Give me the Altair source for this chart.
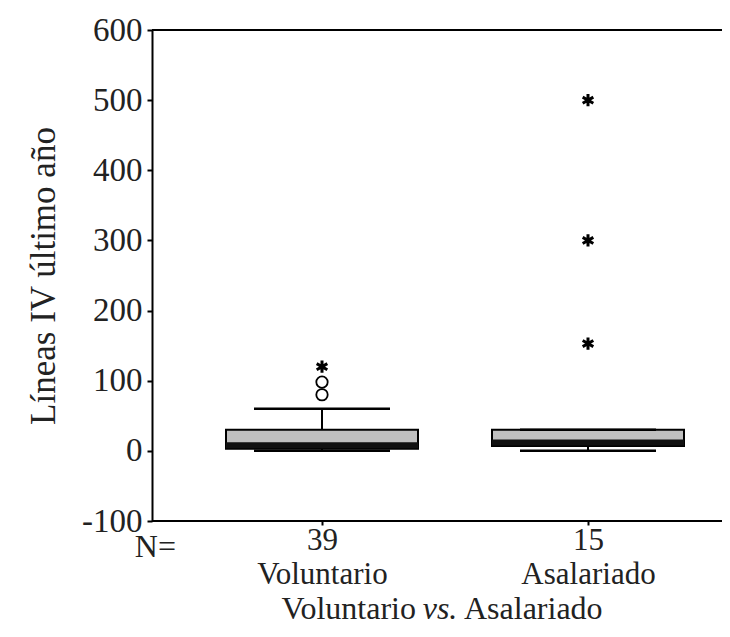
import altair as alt
import pandas as pd

categories = ["Voluntario", "Asalariado"]
n_counts = [39, 15]
q1 = [3, 7]
median = [8, 12]
q3 = [30, 30]
whisk_lo = [0, 0]
whisk_hi = [60, 30]
circle_group = ["Voluntario", "Voluntario"]
circle_vals = [80, 98]
star_group = ["Voluntario", "Asalariado", "Asalariado", "Asalariado"]
star_vals = [120, 500, 300, 153]
y_ticks = [-100, 0, 100, 200, 300, 400, 500, 600]
frame_vals = [-100, 600]

FONT = "Times New Roman, Liberation Serif, serif"
W, H = 570, 491

stats = pd.DataFrame({"group": categories, "n": n_counts, "q1": q1, "median": median,
                      "q3": q3, "lo": whisk_lo, "hi": whisk_hi})
circles = pd.DataFrame({"group": circle_group, "value": circle_vals})
stars = pd.DataFrame({"group": star_group, "value": star_vals})

label_expr = " : ".join(
    [f"datum.value == '{c}' ? ['{n}', '{c}']" for c, n in zip(categories, n_counts)]
) + " : datum.value"

xs = alt.X("group:N", sort=categories,
           scale=alt.Scale(type="point", range=[170, 436], padding=0),
           axis=alt.Axis(title=None, labelExpr=label_expr, labelAngle=0, domain=False,
                         labelFont=FONT, labelFontSize=31, labelColor="#222",
                         labelLineHeight=34, labelBaseline="top", labelPadding=0,
                         tickSize=4, tickColor="black", tickWidth=2))
yscale = alt.Scale(domain=[-100, 600], nice=False, zero=False)
yax = alt.Axis(title="Líneas IV último año", values=y_ticks, grid=False,
               labelExpr="'' + datum.value",
               labelFont=FONT, labelFontSize=33, labelColor="#222", labelPadding=5,
               tickSize=5, tickColor="black", tickWidth=2,
               domainColor="black", domainWidth=2,
               titleFont=FONT, titleFontSize=35, titleFontWeight="normal",
               titleColor="#222", titlePadding=20)

base = alt.Chart(stats)

box = base.mark_bar(size=192, fill="#c0c0c0", stroke="black", strokeWidth=2).encode(
    x=xs, y=alt.Y("q1:Q", scale=yscale, axis=yax), y2="q3:Q")
med = base.mark_tick(size=192, thickness=6, color="#111", opacity=1).encode(x=xs, y="median:Q")
upper = base.mark_rule(color="black", strokeWidth=2).encode(x=xs, y="q3:Q", y2="hi:Q")
lower = base.mark_rule(color="black", strokeWidth=2).encode(x=xs, y="lo:Q", y2="q1:Q")
cap_hi = base.mark_tick(size=136, thickness=2.5, color="black", opacity=1).encode(x=xs, y="hi:Q")
cap_lo = base.mark_tick(size=136, thickness=2.5, color="black", opacity=1).encode(x=xs, y="lo:Q")

circ = alt.Chart(circles).mark_point(shape="circle", filled=False, size=130, opacity=1,
                                      stroke="black", strokeWidth=1.8).encode(
    x=xs, y="value:Q")
star_path = "M0,-1L0,1M-0.87,-0.5L0.87,0.5M-0.87,0.5L0.87,-0.5"
star = alt.Chart(stars).mark_point(shape=star_path, filled=False, size=150, opacity=1,
                                    stroke="black", strokeWidth=3).encode(
    x=xs, y="value:Q")

frame = alt.Chart(pd.DataFrame({"v": frame_vals})).mark_rule(
    color="black", strokeWidth=2).encode(y=alt.Y("v:Q", scale=yscale))

n_txt = alt.Chart(pd.DataFrame({"t": ["N="]})).mark_text(
    font=FONT, fontSize=32, color="#222", align="right", baseline="alphabetic").encode(
    text="t:N", x=alt.value(24), y=alt.value(527))
t1 = alt.Chart(pd.DataFrame({"t": ["Voluntario"]})).mark_text(
    font=FONT, fontSize=32, color="#222", align="right", baseline="alphabetic").encode(
    text="t:N", x=alt.value(264), y=alt.value(589))
t2 = alt.Chart(pd.DataFrame({"t": ["vs."]})).mark_text(
    font=FONT, fontSize=32, fontStyle="italic", color="#222", align="center",
    baseline="alphabetic").encode(text="t:N", x=alt.value(288), y=alt.value(589))
t3 = alt.Chart(pd.DataFrame({"t": ["Asalariado"]})).mark_text(
    font=FONT, fontSize=32, color="#222", align="left", baseline="alphabetic").encode(
    text="t:N", x=alt.value(312), y=alt.value(589))

chart = alt.layer(frame, lower, upper, box, med, cap_hi, cap_lo, circ, star,
                  n_txt, t1, t2, t3).properties(
    width=W, height=H,
    autosize=alt.AutoSizeParams(type="none"),
    padding={"left": 144, "top": 22, "right": 0, "bottom": 105},
).configure_view(strokeWidth=0).configure(background="white", font=FONT)

chart.save("out.html", embed_options={"renderer": "svg", "actions": False})
